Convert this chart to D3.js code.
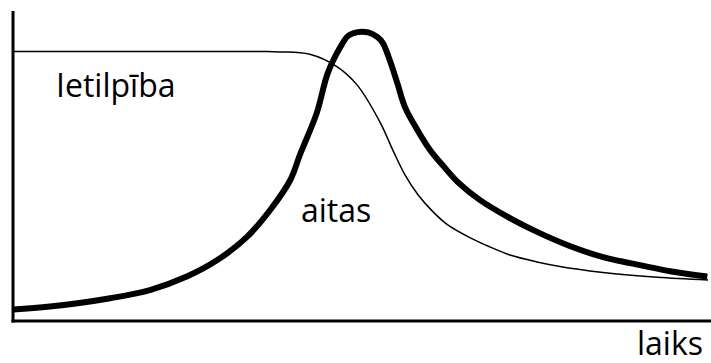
<!DOCTYPE html>
<html>
<head>
<meta charset="utf-8">
<script src="https://cdn.jsdelivr.net/npm/d3@7"></script>
<style>
  html, body { margin: 0; padding: 0; background: #fff; }
  svg { display: block; }
  text { font-family: "Open Sans", "Noto Sans", sans-serif; fill: #000; }
</style>
</head>
<body>
<svg id="chart" width="711" height="363"></svg>
<script>
// Capacity (Ietilpība) – thin curve
const capacityX = [0, 35.5, 38.4, 42.7, 46.6, 49.5, 52.8, 54.7, 56.4, 58.3, 60.3, 62.4, 65.8, 68.6, 71.5, 75.4, 79.1, 83.0, 86.9, 92.7, 100];
const capacityY = [89.8, 89.8, 89.7, 88.9, 84.8, 78.7, 66.3, 56.7, 48.7, 42.0, 36.7, 32.3, 27.7, 24.7, 22.0, 19.7, 18.0, 16.7, 15.7, 14.6, 13.7];

// Sheep (aitas) – thick curve
const sheepX = [0, 5.3, 14.0, 19.7, 25.0, 29.4, 33.7, 37.0, 39.9, 41.3, 43.7, 45.3, 47.1, 48.2, 49.6, 51.1, 52.4, 53.2, 54.2, 55.3, 56.4, 58.1, 60.0, 61.9, 64.0, 67.2, 71.5, 75.4, 80.1, 84.9, 88.8, 95.0, 99.9];
const sheepY = [3.8, 4.8, 7.6, 10.3, 14.8, 20.3, 28.1, 37.0, 47.0, 55.5, 69.3, 82.7, 91.3, 95.0, 96.3, 96.2, 94.7, 92.7, 87.0, 79.3, 71.3, 64.0, 57.0, 51.7, 46.3, 40.3, 34.3, 29.7, 25.0, 21.3, 19.3, 16.4, 14.8];

const labels = ["Ietilpība", "aitas", "laiks"];

const svg = d3.select("#chart");
const x = d3.scaleLinear().domain([0, 100.43]).range([13, 711]);
const y = d3.scaleLinear().domain([0, 103.33]).range([321, 11]);

// Axes (no ticks)
const gx = svg.append("g")
  .attr("transform", `translate(0,${y(0)})`)
  .call(d3.axisBottom(x).ticks(0).tickSizeOuter(0));
gx.select(".domain").attr("stroke", "#000").attr("stroke-width", 3).attr("d", `M${x(0)-1.5},0H${x(100.43)}`);

const gy = svg.append("g").attr("transform", `translate(${x(0)},0)`)
  .call(d3.axisLeft(y).ticks(0).tickSizeOuter(0));
gy.select(".domain").attr("stroke", "#000").attr("stroke-width", 3).attr("d", `M0,${y(0)+1.5}V${y(103.33)}`);

const line = d3.line().x(d => x(d[0])).y(d => y(d[1])).curve(d3.curveCatmullRom.alpha(0.5));

svg.append("path")
  .datum(d3.zip(capacityX, capacityY))
  .attr("fill", "none").attr("stroke", "#000").attr("stroke-width", 1.5)
  .attr("d", line);

svg.append("path")
  .datum(d3.zip(sheepX, sheepY))
  .attr("fill", "none").attr("stroke", "#000").attr("stroke-width", 6)
  .attr("stroke-linejoin", "round")
  .attr("d", line);

svg.append("text").attr("x", 56).attr("y", 97).attr("font-size", 32).text(labels[0]);
svg.append("text").attr("x", 301).attr("y", 222).attr("font-size", 32).text(labels[1]);
svg.append("text").attr("x", 703).attr("y", 355).attr("font-size", 32).attr("text-anchor", "end").text(labels[2]);
</script>
</body>
</html>
